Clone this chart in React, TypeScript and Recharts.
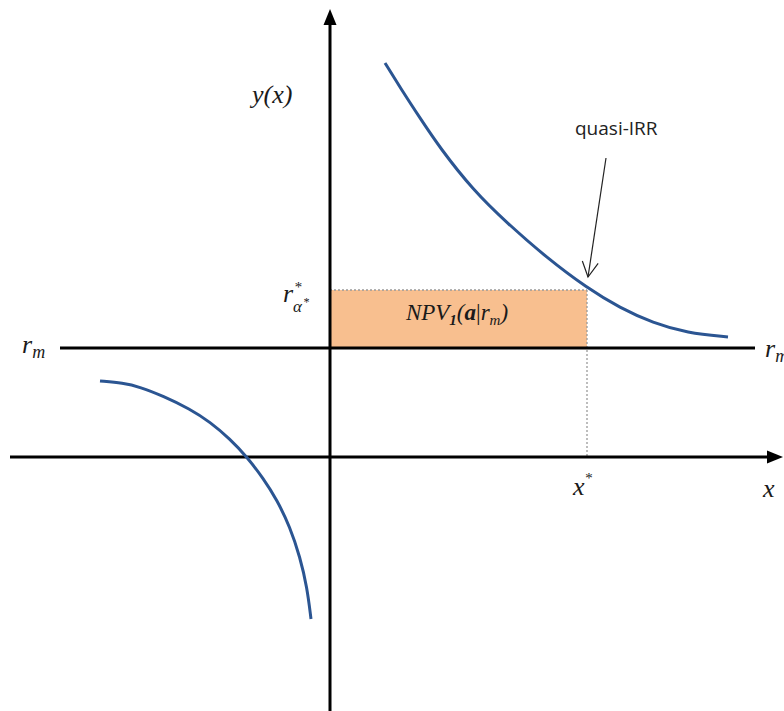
import { ComposedChart, Line, XAxis, YAxis, ReferenceLine, ReferenceArea, ReferenceDot } from "recharts";

// curve branches (x, y in chart units)
const upperX = [0.55, 0.73, 0.9, 1.1, 1.43, 1.77, 2.17, 2.57, 2.9, 3.23, 3.57, 3.98];
const upperY = [3.94, 3.65, 3.39, 3.09, 2.67, 2.34, 1.99, 1.69, 1.49, 1.34, 1.24, 1.2];
const lowerX = [-2.3, -2.07, -1.9, -1.67, -1.4, -1.2, -1.0, -0.83, -0.67, -0.53, -0.4, -0.3, -0.23, -0.19];
const lowerY = [0.76, 0.74, 0.7, 0.61, 0.48, 0.35, 0.18, 0, -0.21, -0.43, -0.7, -1.0, -1.3, -1.62];

const rm = 1.09;
const xStar = 2.57;
const rStar = 1.67;

const xDomain = [-3.3, 4.54];
const yDomain = [-2.54, 4.57];

const upper = upperX.map((x, i) => ({ x, y: upperY[i] }));
const lower = lowerX.map((x, i) => ({ x, y: lowerY[i] }));

const CURVE = "#2B5592";
const MATH = "'Liberation Serif', 'DejaVu Serif', serif";
const INK = "#1a1a1a";

// axis line with filled arrowhead at the second point
const AxisArrow = (p: any) => {
  const { x1, y1, x2, y2 } = p;
  const dx = x2 - x1, dy = y2 - y1;
  const len = Math.hypot(dx, dy) || 1;
  const ux = dx / len, uy = dy / len;
  const L = 16, W = 6.5;
  const bx = x2 - ux * L, by = y2 - uy * L;
  return (
    <g>
      <line x1={x1} y1={y1} x2={bx} y2={by} stroke="#000" strokeWidth={3} />
      <polygon
        points={`${x2},${y2} ${bx - uy * W},${by + ux * W} ${bx + uy * W},${by - ux * W}`}
        fill="#000"
      />
    </g>
  );
};

// thin pointer with an open head
const Pointer = (p: any) => {
  const { x1, y1, x2, y2 } = p;
  const dx = x2 - x1, dy = y2 - y1;
  const len = Math.hypot(dx, dy) || 1;
  const ux = dx / len, uy = dy / len;
  const L = 15, W = 8;
  const bx = x2 - ux * L, by = y2 - uy * L;
  return (
    <g stroke="#222" strokeWidth={1.2} fill="none">
      <line x1={x1} y1={y1} x2={x2} y2={y2} />
      <polyline points={`${bx - uy * W},${by + ux * W} ${x2},${y2} ${bx + uy * W},${by - ux * W}`} />
    </g>
  );
};

const math = { fontFamily: MATH, fontStyle: "italic", fill: INK } as const;

const YLabel = (p: any) => (
  <text x={p.cx} y={p.cy} fontSize={26} {...math}>y(x)</text>
);

const RStarLabel = (p: any) => (
  <g {...math}>
    <text x={p.cx} y={p.cy} fontSize={26}>r</text>
    <text x={p.cx + 11} y={p.cy - 10} fontSize={15}>*</text>
    <text x={p.cx + 10} y={p.cy + 10} fontSize={17}>α</text>
    <text x={p.cx + 20} y={p.cy + 4} fontSize={12}>*</text>
  </g>
);

const NpvLabel = (p: any) => (
  <text x={p.cx} y={p.cy} fontSize={23} textAnchor="middle" {...math}>
    NPV
    <tspan fontSize={15} fontWeight="bold" dy={5}>1</tspan>
    <tspan dy={-5}>(</tspan>
    <tspan fontWeight="bold">a</tspan>
    <tspan fontStyle="normal">|</tspan>
    <tspan>r</tspan>
    <tspan fontSize={15} dy={5}>m</tspan>
    <tspan dy={-5}>)</tspan>
  </text>
);

const RmLabel = (p: any) => (
  <text x={p.cx} y={p.cy} fontSize={26} {...math}>
    r<tspan fontSize={18} dy={5}>m</tspan>
  </text>
);

const XStarLabel = (p: any) => (
  <text x={p.cx} y={p.cy} fontSize={26} {...math}>
    x<tspan fontSize={15} dy={-12}>*</tspan>
  </text>
);

const XLabel = (p: any) => (
  <text x={p.cx} y={p.cy} fontSize={26} {...math}>x</text>
);

const IrrLabel = (p: any) => (
  <text x={p.cx} y={p.cy} fontSize={19} fontFamily="'Open Sans', 'Noto Sans', sans-serif" fill="#222">
    quasi-IRR
  </text>
);

export default function App() {
  return (
    <div style={{ position: "fixed", left: 0, top: 0, background: "#fff" }}>
      <ComposedChart width={784} height={711} margin={{ top: 0, right: 0, bottom: 0, left: 0 }}>
        <XAxis type="number" dataKey="x" domain={xDomain} allowDataOverflow hide />
        <YAxis type="number" dataKey="y" domain={yDomain} allowDataOverflow hide />

        <ReferenceArea x1={0} x2={xStar} y1={rm} y2={rStar} fill="#F8BF8F" fillOpacity={1} stroke="none" />
        <ReferenceLine
          segment={[{ x: 0, y: rStar }, { x: xStar, y: rStar }]}
          stroke="#9a9a9a" strokeWidth={1.3} strokeDasharray="2 2"
        />
        <ReferenceLine
          segment={[{ x: xStar, y: rStar }, { x: xStar, y: 0 }]}
          stroke="#9a9a9a" strokeWidth={1.3} strokeDasharray="2 2"
        />

        <ReferenceLine segment={[{ x: -2.7, y: rm }, { x: 4.25, y: rm }]} stroke="#000" strokeWidth={3} />
        <ReferenceLine segment={[{ x: -3.2, y: 0 }, { x: 4.53, y: 0 }]} shape={AxisArrow} ifOverflow="visible" />
        <ReferenceLine segment={[{ x: 0, y: -2.54 }, { x: 0, y: 4.48 }]} shape={AxisArrow} ifOverflow="visible" />

        <Line data={upper} dataKey="y" type="basis" stroke={CURVE} strokeWidth={3} dot={false} activeDot={false} isAnimationActive={false} />
        <Line data={lower} dataKey="y" type="basis" stroke={CURVE} strokeWidth={3} dot={false} activeDot={false} isAnimationActive={false} />

        <ReferenceLine segment={[{ x: 2.76, y: 2.99 }, { x: 2.58, y: 1.8 }]} shape={Pointer} />

        <ReferenceDot x={-0.78} y={3.54} r={0} shape={YLabel} ifOverflow="visible" />
        <ReferenceDot x={-0.47} y={1.55} r={0} shape={RStarLabel} ifOverflow="visible" />
        <ReferenceDot x={1.27} y={1.37} r={0} shape={NpvLabel} ifOverflow="visible" />
        <ReferenceDot x={-3.08} y={1.04} r={0} shape={RmLabel} ifOverflow="visible" />
        <ReferenceDot x={4.35} y={1.0} r={0} shape={RmLabel} ifOverflow="visible" />
        <ReferenceDot x={2.43} y={-0.38} r={0} shape={XStarLabel} ifOverflow="visible" />
        <ReferenceDot x={4.33} y={-0.4} r={0} shape={XLabel} ifOverflow="visible" />
        <ReferenceDot x={2.45} y={3.22} r={0} shape={IrrLabel} ifOverflow="visible" />
      </ComposedChart>
    </div>
  );
}
